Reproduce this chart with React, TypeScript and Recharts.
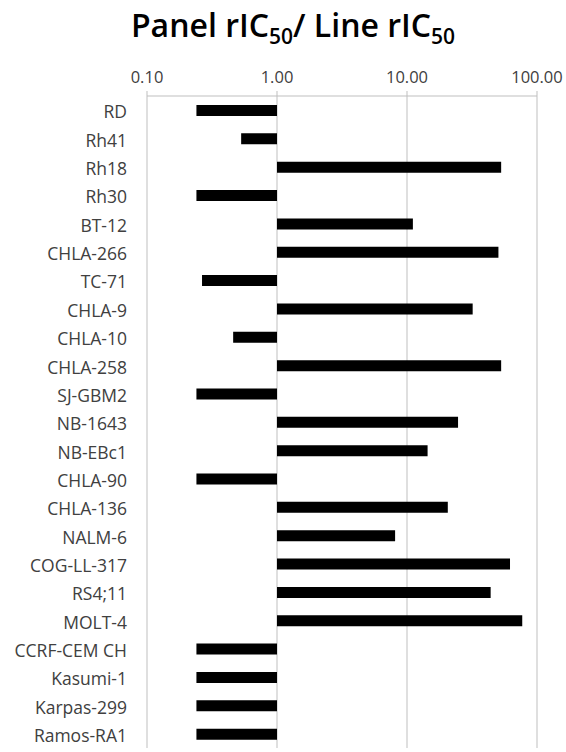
import React from 'react';
import { BarChart, Bar, XAxis, YAxis, CartesianGrid } from 'recharts';

const cellLines = [
  'RD', 'Rh41', 'Rh18', 'Rh30', 'BT-12', 'CHLA-266', 'TC-71', 'CHLA-9',
  'CHLA-10', 'CHLA-258', 'SJ-GBM2', 'NB-1643', 'NB-EBc1', 'CHLA-90',
  'CHLA-136', 'NALM-6', 'COG-LL-317', 'RS4;11', 'MOLT-4', 'CCRF-CEM CH',
  'Kasumi-1', 'Karpas-299', 'Ramos-RA1',
];

// panel rIC50 / line rIC50 ratio
const ratios = [
  0.24, 0.53, 53, 0.24, 11.1, 50.5, 0.265, 32,
  0.46, 53, 0.24, 24.7, 14.4, 0.24,
  20.6, 8.1, 62, 44, 77, 0.24,
  0.24, 0.24, 0.24,
];

const xTicks = [0.1, 1, 10, 100];

const data = cellLines.map((name, i) => ({
  name,
  range: [Math.min(1, ratios[i]), Math.max(1, ratios[i])],
}));

const font = '"Open Sans", sans-serif';
const grey = '#bfbfbf';

const App: React.FC = () => {
  return (
    <div style={{ position: 'fixed', left: 0, top: 0, width: 566, height: 752, background: '#fff', fontFamily: font }}>
      <div
        style={{
          position: 'absolute', top: 3, left: 20, width: 546, textAlign: 'center',
          fontSize: 32, fontWeight: 600, color: '#000', lineHeight: '44px',
        }}
      >
        Panel rIC<sub style={{ fontSize: 21 }}>50</sub>/ Line rIC<sub style={{ fontSize: 21 }}>50</sub>
      </div>
      <BarChart
        width={566}
        height={752}
        data={data}
        layout="vertical"
        margin={{ top: 66, right: 29, bottom: 4, left: 0 }}
        barSize={11}
      >
        <CartesianGrid horizontal={false} stroke={grey} />
        <XAxis
          type="number"
          orientation="top"
          scale="log"
          domain={[0.1, 100]}
          ticks={xTicks}
          allowDataOverflow
          height={30}
          stroke={grey}
          tickSize={5}
          tickMargin={8}
          tickFormatter={(v: number) => v.toFixed(2)}
          tick={{ fill: '#404040', fontSize: 16.5, fontFamily: font }}
        />
        <YAxis
          type="category"
          dataKey="name"
          width={147}
          interval={0}
          axisLine={false}
          tickLine={false}
          tickSize={0}
          tickMargin={20}
          tick={{ fill: '#404040', fontSize: 17.5, fontFamily: font, dy: 2 }}
        />
        <Bar dataKey="range" fill="#000" isAnimationActive={false} />
      </BarChart>
    </div>
  );
};

export default App;
